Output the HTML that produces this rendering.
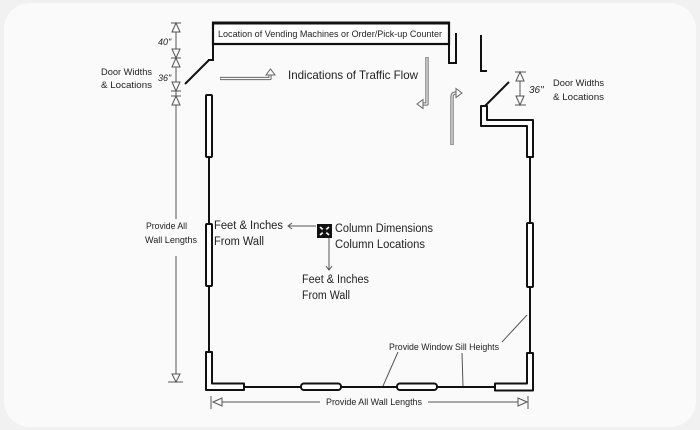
<!DOCTYPE html>
<html>
<head>
<meta charset="utf-8">
<style>
html,body{margin:0;padding:0;background:#f1f1f1;}
body{width:700px;height:430px;overflow:hidden;}
svg{display:block;}
text{font-family:"Liberation Sans",sans-serif;fill:#222;}
</style>
</head>
<body>
<svg width="700" height="430" viewBox="0 0 700 430" xmlns="http://www.w3.org/2000/svg">
  <rect x="0" y="0" width="700" height="430" fill="#f1f1f1"/>
  <rect x="4" y="3" width="692" height="424" rx="26" ry="26" fill="#fafafa"/>

  <!-- ===== Counter box ===== -->
  <rect x="213" y="23" width="236" height="21" fill="#fff" stroke="#111" stroke-width="2.2"/>
  <line x1="212" y1="23" x2="450" y2="23" stroke="#111" stroke-width="3"/>
  <text x="218" y="37" font-size="9.5" textLength="224" lengthAdjust="spacingAndGlyphs">Location of Vending Machines or Order/Pick-up Counter</text>
  <!-- left extension + door swing -->
  <polyline points="213,44 213,60 208,60" fill="none" stroke="#111" stroke-width="2"/>
  <line x1="209" y1="60" x2="185" y2="84" stroke="#111" stroke-width="2"/>
  <!-- right U wall end -->
  <polyline points="449,44 449,63 456,63 456,33" fill="none" stroke="#111" stroke-width="2"/>
  <!-- L piece -->
  <polyline points="481,35 481,71 487,71" fill="none" stroke="#111" stroke-width="2"/>
  <!-- right door swing -->
  <line x1="485" y1="106" x2="509" y2="82" stroke="#111" stroke-width="2"/>
  <polygon points="481,106 481,126 527,126 527,157 533,157 533,120 487,120 487,106" fill="#fff" stroke="#111" stroke-width="2" stroke-linejoin="round"/>

  <!-- ===== Left wall ===== -->
  <rect x="206" y="95" width="6" height="62" rx="1" fill="#fff" stroke="#111" stroke-width="2"/>
  <line x1="209" y1="157" x2="209" y2="224" stroke="#111" stroke-width="2"/>
  <rect x="206" y="224" width="6" height="62" rx="1" fill="#fff" stroke="#111" stroke-width="2"/>
  <line x1="209" y1="286" x2="209" y2="352" stroke="#111" stroke-width="2"/>
  <polygon points="206,352 206,390 244,390 244,383.5 212,383.5 212,352" fill="#fff" stroke="#111" stroke-width="2" stroke-linejoin="round"/>

  <!-- ===== Bottom wall ===== -->
  <line x1="244" y1="387" x2="301" y2="387" stroke="#111" stroke-width="2"/>
  <rect x="301" y="383.5" width="40" height="6.5" rx="3" fill="#fff" stroke="#111" stroke-width="2"/>
  <line x1="341" y1="387" x2="397" y2="387" stroke="#111" stroke-width="2"/>
  <rect x="397" y="383.5" width="40" height="6.5" rx="3" fill="#fff" stroke="#111" stroke-width="2"/>
  <line x1="437" y1="387" x2="495" y2="387" stroke="#111" stroke-width="2"/>
  <polygon points="495,383.5 527,383.5 527,353 533,353 533,390.5 495,390.5" fill="#fff" stroke="#111" stroke-width="2" stroke-linejoin="round"/>

  <!-- ===== Right wall ===== -->
  <line x1="530" y1="157" x2="530" y2="223" stroke="#111" stroke-width="2"/>
  <rect x="527" y="223" width="6" height="64" rx="1" fill="#fff" stroke="#111" stroke-width="2"/>
  <line x1="530" y1="287" x2="530" y2="353" stroke="#111" stroke-width="2"/>

  <!-- ===== Traffic flow arrows ===== -->
  <g fill="none" stroke="#666" stroke-linejoin="round">
    <path d="M220,78.5 H270 V74" stroke-width="3.2"/>
    <path d="M427,57 V104 H422" stroke-width="3.2"/>
    <path d="M452,145 V97 Q452,93 456,93" stroke-width="3.2"/>
  </g>
  <g fill="none" stroke="#fafafa" stroke-linejoin="round">
    <path d="M220.5,78.5 H270 V74" stroke-width="1.2"/>
    <path d="M427,57.5 V104 H422" stroke-width="1.2"/>
    <path d="M452,144.5 V97 Q452,93 456,93" stroke-width="1.2"/>
  </g>
  <polygon points="266,75 270.5,69 275,75" fill="#fafafa" stroke="#666" stroke-width="1"/>
  <polygon points="423,99.5 417,104 423,108.5" fill="#fafafa" stroke="#666" stroke-width="1"/>
  <polygon points="456,88.5 462,93 456,97.5" fill="#fafafa" stroke="#666" stroke-width="1"/>
  <text x="288" y="79" font-size="12" textLength="130" lengthAdjust="spacingAndGlyphs">Indications of Traffic Flow</text>

  <!-- ===== Left dimensions ===== -->
  <g stroke="#555" stroke-width="1" fill="none">
    <line x1="176" y1="23" x2="176" y2="219"/>
    <line x1="176" y1="256" x2="176" y2="382"/>
    <line x1="171" y1="23" x2="181" y2="23"/>
    <line x1="171" y1="58" x2="181" y2="58"/>
    <line x1="171" y1="91" x2="181" y2="91"/>
    <line x1="171" y1="96" x2="181" y2="96"/>
    <line x1="168" y1="382" x2="183" y2="382"/>
    <polygon points="176,23 172,32 180,32" fill="#fafafa"/>
    <polygon points="176,58 172,49 180,49" fill="#fafafa"/>
    <polygon points="176,58 172,67 180,67" fill="#fafafa"/>
    <polygon points="176,91 172,82 180,82" fill="#fafafa"/>
    <polygon points="176,96 172,105 180,105" fill="#fafafa"/>
    <polygon points="176,382 172,374 180,374" fill="#fafafa"/>
  </g>
  <text x="158" y="45" font-size="9" font-style="italic">40"</text>
  <text x="158" y="81" font-size="9" font-style="italic">36"</text>
  <text x="101" y="75" font-size="9" textLength="51" lengthAdjust="spacingAndGlyphs">Door Widths</text>
  <text x="101" y="88" font-size="9" textLength="51" lengthAdjust="spacingAndGlyphs">&amp; Locations</text>
  <text x="146" y="229" font-size="9" textLength="41" lengthAdjust="spacingAndGlyphs">Provide All</text>
  <text x="145" y="243" font-size="9" textLength="52" lengthAdjust="spacingAndGlyphs">Wall Lengths</text>

  <!-- ===== Right door dimension ===== -->
  <g stroke="#555" stroke-width="1" fill="none">
    <line x1="520" y1="72" x2="520" y2="105"/>
    <line x1="515" y1="72" x2="526" y2="72"/>
    <line x1="515" y1="105" x2="526" y2="105"/>
    <polygon points="520,72 516,81 524,81" fill="#fafafa"/>
    <polygon points="520,105 516,96 524,96" fill="#fafafa"/>
  </g>
  <text x="529" y="93" font-size="10" font-style="italic">36"</text>
  <text x="553" y="86" font-size="9" textLength="51" lengthAdjust="spacingAndGlyphs">Door Widths</text>
  <text x="553" y="100" font-size="9" textLength="51" lengthAdjust="spacingAndGlyphs">&amp; Locations</text>

  <!-- ===== Column ===== -->
  <rect x="317" y="224" width="15" height="14" fill="#111"/>
  <g stroke="#fff" stroke-width="1.6">
    <line x1="320" y1="227" x2="329" y2="235"/>
    <line x1="329" y1="227" x2="320" y2="235"/>
  </g>
  <rect x="322.5" y="229" width="4" height="4" fill="#111"/>
  <g stroke="#555" stroke-width="1" fill="none">
    <line x1="316" y1="226" x2="288" y2="226"/>
    <polyline points="292,223 288,226 292,229"/>
    <line x1="329" y1="238" x2="329" y2="270"/>
    <polyline points="326,266 329,270 332,266"/>
  </g>
  <text x="214" y="229" font-size="11.5" textLength="69" lengthAdjust="spacingAndGlyphs">Feet &amp; Inches</text>
  <text x="214" y="245" font-size="11.5" textLength="50" lengthAdjust="spacingAndGlyphs">From Wall</text>
  <text x="335" y="232" font-size="11.5" textLength="98" lengthAdjust="spacingAndGlyphs">Column Dimensions</text>
  <text x="335" y="248" font-size="11.5" textLength="90" lengthAdjust="spacingAndGlyphs">Column Locations</text>
  <text x="302" y="283" font-size="11.5" textLength="67" lengthAdjust="spacingAndGlyphs">Feet &amp; Inches</text>
  <text x="302" y="299" font-size="11.5" textLength="48" lengthAdjust="spacingAndGlyphs">From Wall</text>

  <!-- ===== Window sill leaders ===== -->
  <g stroke="#555" stroke-width="1">
    <line x1="398" y1="352" x2="383" y2="386"/>
    <line x1="462" y1="353" x2="463" y2="386"/>
    <line x1="502" y1="342" x2="527" y2="315"/>
  </g>
  <text x="389" y="350" font-size="9" textLength="110" lengthAdjust="spacingAndGlyphs">Provide Window Sill Heights</text>

  <!-- ===== Bottom dimension ===== -->
  <g stroke="#555" stroke-width="1" fill="none">
    <line x1="213" y1="402" x2="320" y2="402"/>
    <line x1="428" y1="402" x2="527" y2="402"/>
    <line x1="211" y1="396" x2="211" y2="409"/>
    <line x1="528" y1="396" x2="528" y2="409"/>
    <polygon points="213,402 222,398 222,406" fill="#fafafa"/>
    <polygon points="527,402 518,398 518,406" fill="#fafafa"/>
  </g>
  <text x="326" y="405" font-size="9" textLength="96" lengthAdjust="spacingAndGlyphs">Provide All Wall Lengths</text>
</svg>
</body>
</html>
